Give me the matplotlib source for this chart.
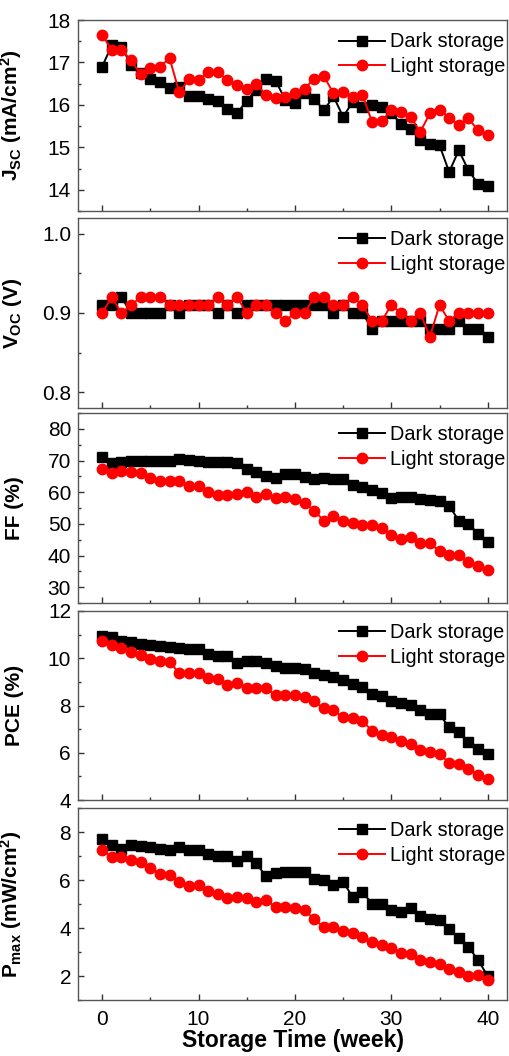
import numpy as np
import matplotlib.pyplot as plt
from matplotlib.ticker import MultipleLocator, FormatStrFormatter

plt.rcParams['font.family'] = ['Liberation Sans', 'DejaVu Sans']
plt.rcParams['mathtext.fontset'] = 'custom'
plt.rcParams['mathtext.rm'] = 'Liberation Sans:bold'
plt.rcParams['mathtext.bf'] = 'Liberation Sans:bold'
plt.rcParams['mathtext.it'] = 'Liberation Sans:bold'

weeks = np.arange(0, 41)

# short-circuit current density (mA/cm2)
jsc_dark = [16.9, 17.4, 17.37, 16.95, 16.75, 16.6, 16.55, 16.4, 16.43, 16.2,
            16.2, 16.15, 16.1, 15.9, 15.8, 16.1, 16.35, 16.6, 16.57, 16.12,
            16.05, 16.27, 16.15, 15.87, 16.2, 15.72, 16.07, 15.95, 15.99, 15.95,
            15.8, 15.56, 15.44, 15.18, 15.07, 15.05, 14.42, 14.93, 14.46, 14.14,
            14.08]
jsc_light = [17.65, 17.3, 17.3, 17.05, 16.72, 16.86, 16.9, 17.1, 16.3, 16.6,
             16.58, 16.78, 16.78, 16.58, 16.46, 16.38, 16.5, 16.23, 16.17, 16.19,
             16.27, 16.38, 16.62, 16.68, 16.27, 16.3, 16.19, 16.24, 15.6, 15.62,
             15.87, 15.83, 15.72, 15.36, 15.8, 15.89, 15.7, 15.52, 15.68, 15.4,
             15.28]

# open-circuit voltage (V)
voc_dark = [0.91, 0.91, 0.92, 0.90, 0.90, 0.90, 0.90, 0.91, 0.90, 0.91,
            0.91, 0.91, 0.90, 0.91, 0.90, 0.91, 0.91, 0.91, 0.91, 0.91,
            0.91, 0.91, 0.91, 0.91, 0.90, 0.91, 0.90, 0.90, 0.88, 0.89,
            0.89, 0.89, 0.89, 0.89, 0.88, 0.88, 0.88, 0.89, 0.88, 0.88,
            0.87]
voc_light = [0.90, 0.92, 0.90, 0.91, 0.92, 0.92, 0.92, 0.91, 0.91, 0.91,
             0.91, 0.91, 0.92, 0.91, 0.92, 0.90, 0.91, 0.91, 0.90, 0.89,
             0.90, 0.90, 0.92, 0.92, 0.91, 0.91, 0.92, 0.91, 0.89, 0.89,
             0.91, 0.90, 0.89, 0.90, 0.87, 0.91, 0.89, 0.90, 0.90, 0.90,
             0.90]

# fill factor (%)
ff_dark = [71, 69.3, 69.5, 70, 70, 70, 70, 69.8, 70.5, 70.1,
           69.8, 69.5, 69.5, 69.5, 69.3, 67.4, 66.4, 65.1, 64.6, 65.6,
           65.6, 64.9, 64.3, 64.6, 64.1, 64.3, 62.2, 61.7, 60.7, 59.7,
           58.3, 58.6, 58.6, 57.8, 57.6, 57.3, 55.7, 51, 50, 46.9,
           44.3]
ff_light = [67.4, 65.9, 66.7, 66.4, 66.1, 64.6, 63.5, 63.5, 63.5, 62,
            62, 59.9, 59.1, 59.1, 59.4, 59.9, 58.6, 59.4, 58.3, 58.6,
            57.8, 56.6, 54.2, 51, 52.6, 51, 50.3, 49.7, 49.7, 48.6,
            46.4, 45.1, 45.8, 44.1, 43.8, 41.4, 40.1, 40.1, 38, 36.8,
            35.4]

# power conversion efficiency (%)
pce_dark = [10.93, 10.9, 10.75, 10.68, 10.6, 10.57, 10.51, 10.47, 10.44, 10.4,
            10.38, 10.2, 10.1, 10.1, 9.82, 9.88, 9.88, 9.78, 9.68, 9.6,
            9.6, 9.54, 9.36, 9.29, 9.22, 9.08, 8.92, 8.8, 8.49, 8.39,
            8.21, 8.11, 8.04, 7.79, 7.63, 7.63, 7.07, 6.86, 6.44, 6.17,
            5.96]
pce_light = [10.75, 10.54, 10.43, 10.26, 10.13, 9.96, 9.88, 9.85, 9.36, 9.36,
             9.36, 9.18, 9.13, 8.88, 8.94, 8.76, 8.74, 8.74, 8.43, 8.43,
             8.43, 8.35, 8.18, 7.88, 7.79, 7.51, 7.49, 7.35, 6.93, 6.76,
             6.68, 6.49, 6.38, 6.1, 6.03, 5.96, 5.57, 5.54, 5.33, 5.06,
             4.88]

# maximum power density (mW/cm2)
pmax_dark = [7.69, 7.45, 7.31, 7.45, 7.41, 7.38, 7.31, 7.24, 7.38, 7.27,
             7.24, 7.1, 6.99, 6.99, 6.8, 6.99, 6.69, 6.15, 6.29, 6.34,
             6.34, 6.34, 6.06, 5.99, 5.78, 5.92, 5.29, 5.5, 5.01, 4.98,
             4.73, 4.66, 4.84, 4.48, 4.38, 4.34, 3.96, 3.58, 3.22, 2.66,
             2.0]
pmax_light = [7.24, 6.97, 6.94, 6.83, 6.76, 6.48, 6.27, 6.2, 5.92, 5.73,
              5.78, 5.54, 5.43, 5.26, 5.29, 5.26, 5.08, 5.17, 4.87, 4.87,
              4.84, 4.73, 4.38, 4.03, 4.06, 3.89, 3.78, 3.64, 3.4, 3.3,
              3.16, 2.94, 2.91, 2.66, 2.6, 2.49, 2.28, 2.18, 2.0, 2.04,
              1.82]

ylabels = [r'$J_{SC}$ (mA/cm$^2$)', r'$V_{OC}$ (V)', 'FF (%)', 'PCE (%)',
           r'$P_{max}$ (mW/cm$^2$)']
ylims = [(13.5, 18), (0.78, 1.02), (25, 85), (4, 12), (1, 9)]
major = [1, 0.1, 10, 2, 2]
minor = [0.5, 0.05, 5, 1, 1]
fmts = ['%d', '%.1f', '%d', '%d', '%d']

panels = [(jsc_dark, jsc_light), (voc_dark, voc_light), (ff_dark, ff_light),
          (pce_dark, pce_light), (pmax_dark, pmax_light)]

# pixel extents (top, bottom) of each panel
W, H = 509, 1056
boxes = [(20, 211), (218, 408), (413, 603), (611, 800), (808, 1000)]
left, right = 78, 507

fig = plt.figure(figsize=(W / 100, H / 100), dpi=100)

for i, (dark, light) in enumerate(panels):
    top, bot = boxes[i]
    ax = fig.add_axes([left / W, 1 - bot / H, (right - left) / W, (bot - top) / H])
    ax.plot(weeks, dark, color='black', marker='s', markersize=6.5,
            linewidth=1.4, label='Dark storage')
    ax.plot(weeks, light, color='red', marker='o', markersize=7.5,
            linewidth=1.4, label='Light storage')
    ax.set_xlim(-2.5, 42)
    ax.set_ylim(*ylims[i])
    ax.xaxis.set_major_locator(MultipleLocator(10))
    ax.xaxis.set_minor_locator(MultipleLocator(5))
    ax.yaxis.set_major_locator(MultipleLocator(major[i]))
    ax.yaxis.set_minor_locator(MultipleLocator(minor[i]))
    ax.yaxis.set_major_formatter(FormatStrFormatter(fmts[i]))
    ax.tick_params(which='both', direction='in', labelsize=15, color='#333333')
    ax.tick_params(axis='y', pad=5)
    ax.tick_params(which='major', length=4, width=1)
    ax.tick_params(which='minor', length=2, width=1)
    for s in ax.spines.values():
        s.set_color('#555555')
        s.set_linewidth(1.0)
    ax.set_ylabel(ylabels[i], fontsize=15, fontweight='bold')
    ax.yaxis.set_label_coords(-0.125, 0.5)
    ax.legend(loc='upper right', bbox_to_anchor=(1.0, 0.945), frameon=False,
              fontsize=14.3, handlelength=2.3, handletextpad=0.25,
              labelspacing=0.3, borderaxespad=0.0, borderpad=0.1)
    if i < len(panels) - 1:
        ax.tick_params(labelbottom=False)
    else:
        ax.tick_params(axis='x', pad=7)
        ax.set_xlabel('Storage Time (week)', fontsize=16.5, fontweight='bold',
                      labelpad=0)

fig.savefig('out.png', dpi=100)
